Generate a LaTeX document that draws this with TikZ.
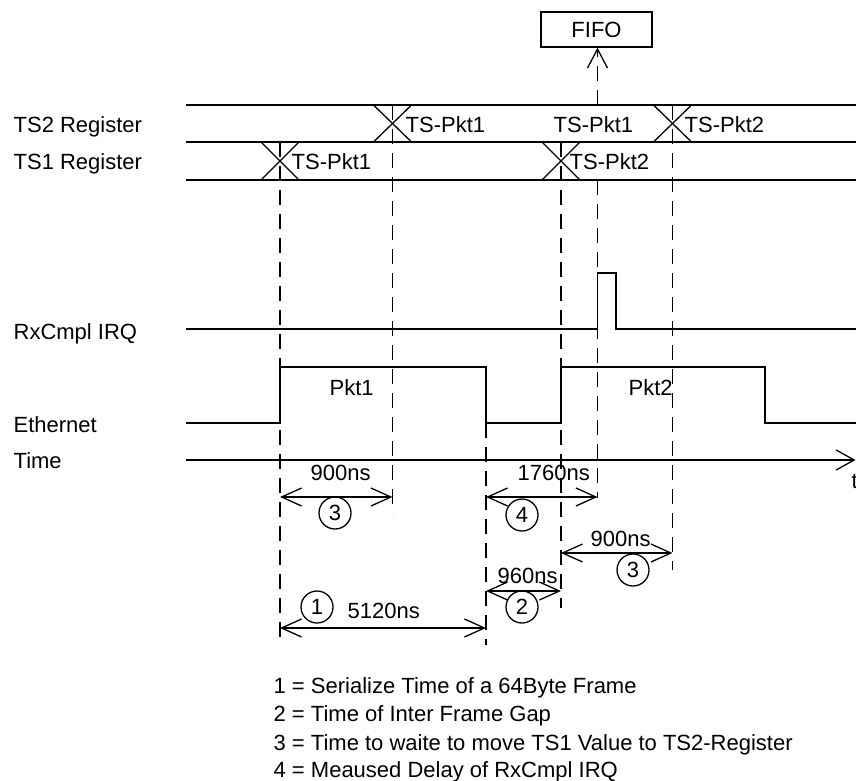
\documentclass[tikz,border=0pt]{standalone}
\usepackage{fontspec}
\setmainfont{Liberation Sans}
\usetikzlibrary{arrows.meta}
\begin{document}
\begin{tikzpicture}[x=1pt,y=-1pt,line width=1.3pt,
  dashline/.style={dash pattern=on 15pt off 9pt},
  lbl/.style={anchor=base west,inner sep=0pt,font=\fontsize{22}{26}\selectfont},
  upbarb/.style={-{Straight Barb[length=19pt,width=20pt]}},
  dimarrow/.style={{Straight Barb[length=20pt,width=18pt]}-{Straight Barb[length=20pt,width=18pt]}},
  num/.style={circle,draw,minimum size=32pt,inner sep=0pt,font=\fontsize{22}{26}\selectfont},
  boxnode/.style={draw,minimum width=111pt,minimum height=35pt,inner sep=0pt,font=\fontsize{22}{26}\selectfont}]
\useasboundingbox (0,0) rectangle (856,781);

% ---------- left labels ----------
\node[lbl] (lts2) at (13,132) {TS2 Register};
\node[lbl] (lts1) at (13,169) {TS1 Register};
\node[lbl] (lirq) at (13,339) {RxCmpl IRQ};
\node[lbl] (leth) at (13,432) {Ethernet};
\node[lbl] (ltime) at (13,468) {Time};

% ---------- register rows ----------
\draw (186,105) -- (856,105);
\draw (186,142) -- (856,142);
\draw (186,180) -- (856,180);

% crossings
\foreach \c/\t/\b in {392.5/105/142, 672.5/105/142, 280/142/180, 561/142/180}{
  \draw (\c-19,\t) -- (\c+19,\b);
  \draw (\c+19,\t) -- (\c-19,\b);
}
\node[lbl] (ts2a) at (405,132) {TS-Pkt1};
\node[lbl] (ts2b) at (553,132) {TS-Pkt1};
\node[lbl] (ts2c) at (684,132) {TS-Pkt2};
\node[lbl] (ts1a) at (291,169) {TS-Pkt1};
\node[lbl] (ts1b) at (569,169) {TS-Pkt2};

% ---------- FIFO ----------
\node[boxnode] (fifo) at (596.5,29.5) {FIFO};
\coordinate (fifofoot) at (597.5,105);
\draw[upbarb,dashline] (fifofoot) -- (fifo.south -| fifofoot);

% ---------- dashed guide lines ----------
\draw[dashline] (280,142) -- (280,645);
\draw[dashline] (392.5,105) -- (392.5,513);
\draw[dashline] (486,423) -- (486,645);
\draw[dashline] (561,142) -- (561,608);
\draw[dashline] (597.5,180) -- (597.5,498);
\draw[dashline] (672.5,105) -- (672.5,570);

% ---------- RxCmpl IRQ ----------
\draw (186,329) -- (597.5,329) -- (597.5,273) -- (616,273) -- (616,329) -- (856,329);

% ---------- Ethernet ----------
\draw (186,423) -- (280,423) -- (280,367) -- (486,367) -- (486,423) -- (561,423)
      -- (561,367) -- (765,367) -- (765,423) -- (856,423);
\node[lbl] (pkt1) at (329,395) {Pkt1};
\node[lbl] (pkt2) at (628,395) {Pkt2};

% ---------- time axis ----------
\coordinate (t0) at (186,460);
\coordinate (t1) at (855.5,460);
\draw[-{Straight Barb[length=18pt,width=20pt]}] (t0) -- (t1);
\node[lbl] (tlabel) at (851,488) {t};

% ---------- dimensions ----------
\draw[dimarrow] (280,497) -- (392.5,497);
\node[lbl] (d900a) at (310,480) {900ns};
\node[num] (c3a) at (335,513) {3};

\draw[dimarrow] (486,497) -- (597.5,497);
\node[lbl] (d1760) at (517,480) {1760ns};
\node[num] (c4) at (522,515) {4};

\draw[dimarrow] (561,553) -- (672.5,553);
\node[lbl] (d900b) at (590,546) {900ns};
\node[num] (c3b) at (633,570) {3};

\draw[dimarrow] (486,591) -- (561,591);
\node[lbl] (d960) at (497,583) {960ns};
\node[num] (c2) at (522,607) {2};

\draw[dimarrow] (280,628) -- (486,628);
\node[lbl] (d5120) at (347,618) {5120ns};
\node[num] (c1) at (317,607) {1};

% ---------- legend ----------
\node[lbl] (leg1) at (273,693) {1 = Serialize Time of a 64Byte Frame};
\node[lbl] (leg2) at (273,721.5) {2 = Time of Inter Frame Gap};
\node[lbl] (leg3) at (273,750) {3 = Time to waite to move TS1 Value to TS2-Register};
\node[lbl] (leg4) at (273,777.5) {4 = Meaused Delay of RxCmpl IRQ};
\end{tikzpicture}
\end{document}
